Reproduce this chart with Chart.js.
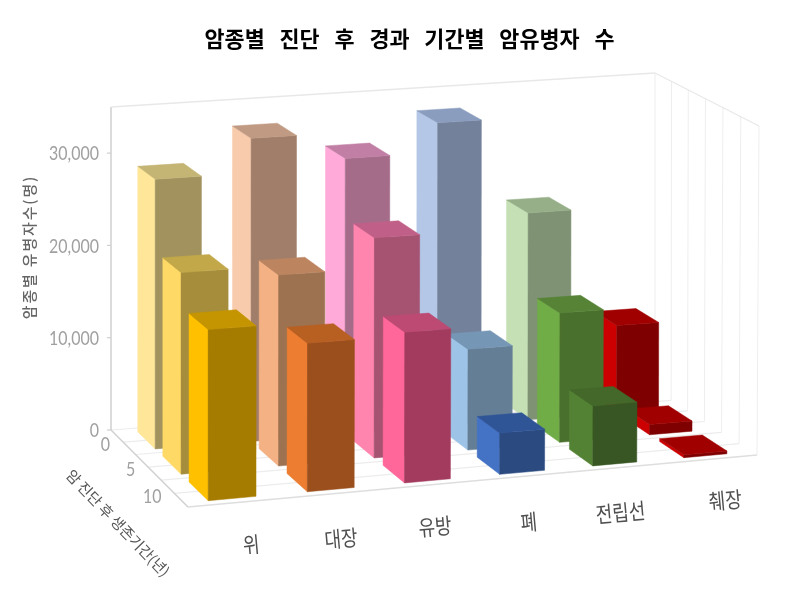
<!DOCTYPE html>
<html>
<head>
<meta charset="utf-8">
<title>암유병자 수</title>
<script src="https://cdn.jsdelivr.net/npm/chart.js@4"></script>
<style>
  html, body { margin: 0; padding: 0; background: #fff; }
  canvas { display: block; }
</style>
</head>
<body>
<canvas id="chart" width="789" height="602"></canvas>
<script>
// categories and values
const cancers = ['위', '대장', '유방', '폐', '전립선', '췌장'];
const years = ['0', '5', '10'];
const yTicks = [0, 10000, 20000, 30000];
const year0 = [28700, 32400, 29600, 32800, 22400, 9500];
const year5 = [21000, 20000, 23200, 10700, 13800, 1100];
const year10 = [17450, 15250, 15600, 4300, 6300, 300];

// face colours by cancer: side, front, top
const sideColors = [
    ['#FFE699', '#F8CBAD', '#FFAAD9', '#B4C7E7', '#C5E0B4', '#CC0000'],
    ['#FFD966', '#F4B183', '#FF85AE', '#9DC3E6', '#70AD47', '#CC0000'],
    ['#FFC000', '#ED7D31', '#FF6699', '#4472C4', '#548235', '#CC0000']
];
const frontColors = [
    ['#A1925E', '#A07E6A', '#A56C8A', '#73819A', '#7F9274', '#7F0000'],
    ['#A58D3C', '#9C7251', '#A65271', '#647E96', '#4A702D', '#7F0000'],
    ['#A67C00', '#9A4F1C', '#A33B5E', '#2A4A80', '#375623', '#7F0000']
];
const topColors = [
    ['#C4B574', '#C09A82', '#C17FA5', '#8A9DBE', '#96AF88', '#A00000'],
    ['#C3A849', '#BC8560', '#C06088', '#7696B6', '#568336', '#A00000'],
    ['#C49500', '#B85F22', '#BD4A73', '#2F5597', '#43682A', '#A00000']
];

// the floor on screen (back left, back right, front right, front left)
const floorQuad = [[111, 430], [655, 390], [757, 455], [188, 507]];
// how tall the full value range is at those same corners
const wallHeights = [323, 317, 329, 345];
// small shift of the bars along the floor, and a correction for the perspective across it
const barShift = -0.003;
const acrossBend = 0.067;
// label nudges for the cancer names
const nameNudge = [[3, 2], [-6, 5], [-9, 2], [-10, 6], [-11, 5], [3, 1]];

// unit square -> quad
function squareToQuad(q) {
    const [x0, y0] = q[0], [x1, y1] = q[1], [x2, y2] = q[2], [x3, y3] = q[3];
    const dx1 = x1 - x2, dx2 = x3 - x2, sx = x0 - x1 + x2 - x3;
    const dy1 = y1 - y2, dy2 = y3 - y2, sy = y0 - y1 + y2 - y3;
    const den = dx1 * dy2 - dx2 * dy1;
    const g = (sx * dy2 - dx2 * sy) / den;
    const h = (dx1 * sy - sx * dy1) / den;
    const a = x1 - x0 + g * x1, b = x3 - x0 + h * x3;
    const d = y1 - y0 + g * y1, e = y3 - y0 + h * y3;
    return (u, w) => {
        const k = g * u + h * w + 1;
        return [(a * u + b * w + x0) / k, (d * u + e * w + y0) / k];
    };
}
const onFloor = squareToQuad(floorQuad);

// u across, w from back to front, v up; all 0..1
function project(u, w, v) {
    const f = onFloor(u - acrossBend * u * (1 - u), w);
    const [hBL, hBR, hFR, hFL] = wallHeights;
    const height = (hBL * (1 - u) + hBR * u) * (1 - w) + (hFL * (1 - u) + hFR * u) * w;
    return [f[0] + 2 * u * w * v, f[1] - height * v];
}

function poly(ctx, pts, color) {
    ctx.beginPath();
    pts.forEach((p, i) => i ? ctx.lineTo(p[0], p[1]) : ctx.moveTo(p[0], p[1]));
    ctx.closePath();
    ctx.fillStyle = color;
    ctx.strokeStyle = color;
    ctx.lineWidth = 0.5;
    ctx.fill();
    ctx.stroke();
}

function line(ctx, a, b, color, width) {
    ctx.beginPath();
    ctx.moveTo(a[0], a[1]);
    ctx.lineTo(b[0], b[1]);
    ctx.strokeStyle = color;
    ctx.lineWidth = width;
    ctx.stroke();
}

function label(ctx, text, x, y, font, color, opts) {
    const o = opts || {};
    ctx.save();
    ctx.translate(x, y);
    ctx.rotate(o.angle || 0);
    ctx.scale(o.stretch || 1, 1);
    ctx.font = font;
    ctx.fillStyle = color;
    ctx.filter = 'blur(0.45px)';
    ctx.letterSpacing = (o.spacing || 0) + 'px';
    ctx.textAlign = o.align || 'center';
    ctx.textBaseline = 'middle';
    ctx.fillText(text, 0, 0);
    ctx.restore();
}

const box3d = {
    id: 'box3d',
    // the flat bars are only used for their geometry
    beforeDatasetDraw() {
        return false;
    },
    beforeDatasetsDraw(chart) {
        const ctx = chart.ctx, yScale = chart.scales.y;
        ctx.save();
        // floor lines and right wall lines, two per year cell
        const n = years.length * 2;
        for (let i = 0; i <= n; i++) {
            const w = i / n;
            line(ctx, project(0, w, 0), project(1, w, 0), i === n ? '#DEDEDE' : '#ECECEC', i === n ? 1.6 : 1.2);
            line(ctx, project(1, w, 0), project(1, w, 1), '#EEEEEE', 1);
        }
        line(ctx, project(0, 0, 0), project(0, 1, 0), '#CFCFCF', 1.5);
        line(ctx, project(0, 0, 0), project(0, 0, 1), '#CFCFCF', 1.5);
        line(ctx, project(0, 0, 1), project(1, 0, 1), '#E8E8E8', 1.5);
        line(ctx, project(1, 0, 1), project(1, 1, 1), '#E8E8E8', 1.2);
        yScale.ticks.forEach(t => {
            const v = (yScale.bottom - yScale.getPixelForValue(t.value)) / yScale.height;
            const p = project(0, 0, v);
            line(ctx, [p[0] - 4, p[1]], p, '#CFCFCF', 1.2);
        });
        ctx.restore();
    },
    afterDatasetsDraw(chart) {
        const ctx = chart.ctx, area = chart.chartArea, z = chart.scales.z;
        const cell = z.getPixelForValue(1) - z.getPixelForValue(0);
        ctx.save();
        chart.data.datasets.forEach((ds, row) => {
            const bars = chart.getDatasetMeta(row).data;
            const zc = (z.getPixelForValue(row) - z.left) / z.width;
            const zh = cell * 0.35 / z.width;
            const w0 = zc - zh, w1 = zc + zh;
            // right to left so nearer bars cover the others
            for (let i = bars.length - 1; i >= 0; i--) {
                const b = bars[i];
                const u0 = (b.x - b.width / 2 - area.left) / area.width + barShift;
                const u1 = (b.x + b.width / 2 - area.left) / area.width + barShift;
                const v = (b.base - b.y) / area.height;
                poly(ctx, [project(u0, w0, 0), project(u0, w1, 0), project(u0, w1, v), project(u0, w0, v)], sideColors[row][i]);
                poly(ctx, [project(u0, w1, 0), project(u1, w1, 0), project(u1, w1, v), project(u0, w1, v)], frontColors[row][i]);
                poly(ctx, [project(u0, w0, v), project(u1, w0, v), project(u1, w1, v), project(u0, w1, v)], topColors[row][i]);
            }
        });
        ctx.restore();
    },
    afterDraw(chart) {
        const ctx = chart.ctx, area = chart.chartArea, x = chart.scales.x, y = chart.scales.y, z = chart.scales.z;
        const tickFont = '19px Lato, "Noto Sans", sans-serif';
        y.ticks.forEach(t => {
            const v = (y.bottom - y.getPixelForValue(t.value)) / y.height;
            label(ctx, t.value.toLocaleString('en-US'), 99, project(0, 0, v)[1] + 1, tickFont, '#A0A0A0', { align: 'right', stretch: 0.84 });
        });
        years.forEach((yr, i) => {
            const p = project(0, (z.getPixelForValue(i) - z.left) / z.width, 0);
            label(ctx, yr, p[0] - 13, p[1] + 3, tickFont, '#A0A0A0', { align: 'right', stretch: 0.84 });
        });
        cancers.forEach((name, i) => {
            const p = project((x.getPixelForValue(i) - area.left) / area.width, 1, 0);
            label(ctx, name, p[0] + 10 + nameNudge[i][0], p[1] + 40 + nameNudge[i][1], '22px "Noto Sans CJK KR"', '#505050', { angle: -0.09, stretch: 0.82 });
        });
        label(ctx, '암종별 유병자수(명)', 29, 247, '500 15px "Noto Sans CJK KR"', '#666666', { angle: -Math.PI / 2, spacing: 1.8 });
        label(ctx, '암 진단 후 생존기간(년)', 118, 523, '14.7px "Noto Sans CJK KR"', '#555555', { angle: 0.804 });
    }
};

new Chart(document.getElementById('chart'), {
    type: 'bar',
    data: {
        labels: cancers,
        datasets: [
            { label: years[0], data: year0 },
            { label: years[1], data: year5 },
            { label: years[2], data: year10 }
        ]
    },
    plugins: [box3d],
    options: {
        responsive: false,
        animation: false,
        grouped: false,
        categoryPercentage: 1,
        barPercentage: 0.48,
        layout: { padding: { left: 30 } },
        plugins: {
            legend: { display: false },
            tooltip: { enabled: false },
            title: {
                display: true,
                text: '암종별   진단   후   경과   기간별   암유병자   수',
                color: '#000000',
                font: { family: '"Noto Sans CJK KR"', size: 21.8, weight: 'bold' },
                padding: { top: 26, bottom: 6 }
            }
        },
        scales: {
            x: { display: false, offset: true },
            y: {
                display: false,
                min: 0,
                max: 35000,
                afterBuildTicks: scale => { scale.ticks = yTicks.map(value => ({ value })); }
            },
            z: { axis: 'x', type: 'category', display: false, offset: true, labels: years }
        }
    }
});
</script>
</body>
</html>
